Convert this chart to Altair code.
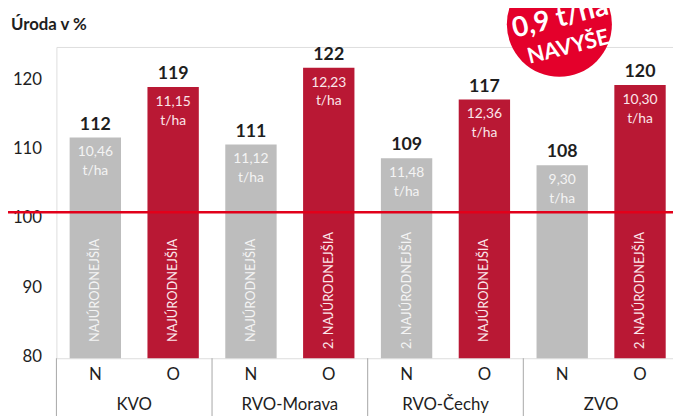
import altair as alt
import pandas as pd

regions = ["KVO", "RVO-Morava", "RVO-Čechy", "ZVO"]
types = ["N", "O"]
percent = [111.9, 119.2, 110.9, 122.0, 108.9, 117.4, 107.9, 119.5]
labels = ["112", "119", "111", "122", "109", "117", "108", "120"]
yields = ["10,46", "11,15", "11,12", "12,23", "11,48", "12,36", "9,30", "10,30"]
ranks = ["NAJÚRODNEJŠIA", "NAJÚRODNEJŠIA", "NAJÚRODNEJŠIA", "2. NAJÚRODNEJŠIA",
         "2. NAJÚRODNEJŠIA", "NAJÚRODNEJŠIA", "", "2. NAJÚRODNEJŠIA"]
reference = 101.1
rank_pos = 89.8
y_ticks = [80, 90, 100, 110, 120]
title_text = "Úroda v %"
badge_lines = ["0,9 t/ha", "NAVYŠE"]

FONT = "Lato"
GRAY = "#bdbdbd"
RED = "#b91834"
LINE_RED = "#e2001a"
BADGE_RED = "#e4002b"
TXT = "#1e1e1e"

rows = []
i = 0
for r in regions:
    for t in types:
        rows.append({"region": r, "type": t, "pct": percent[i], "label": labels[i],
                     "yld": yields[i] + "\nt/ha", "rank": ranks[i], "rpos": rank_pos})
        i += 1
df = pd.DataFrame(rows)

W, H = 624, 315
xscale = alt.Scale(domain=regions, range=[0, 630], paddingInner=0, paddingOuter=0)
xoff = alt.XOffset("type:N", scale=alt.Scale(domain=types, paddingInner=0.34, paddingOuter=0.17))
yscale = alt.Scale(domain=[80, 125], nice=False, zero=False)

X = alt.X("region:N", scale=xscale,
          axis=alt.Axis(title=None, labels=False, ticks=False, domain=True,
                        domainColor="#a6a6a6", domainWidth=1, grid=False))
Y = alt.Y("pct:Q", scale=yscale,
          axis=alt.Axis(title=None, values=y_ticks, domain=False, ticks=False, grid=False,
                        labelFont=FONT, labelFontSize=17, labelColor=TXT,
                        labelPadding=15, labelOffset=-2))

base = alt.Chart(df)

bars = base.mark_bar().encode(
    x=X, xOffset=xoff, y=Y, y2=alt.datum(80),
    color=alt.condition(alt.datum.type == "N", alt.value(GRAY), alt.value(RED)),
)

refline = alt.Chart(pd.DataFrame({"ref": [reference]})).mark_rule(
    color=LINE_RED, strokeWidth=2.5
).encode(y=alt.Y("ref:Q", scale=yscale), x=alt.value(-57), x2=alt.value(W))

top_labels = base.mark_text(font=FONT, fontSize=18, fontWeight="bold", color=TXT,
                            baseline="alphabetic", dy=-8).encode(
    x=X, xOffset=xoff, y=Y, text="label:N")

inner = base.mark_text(font=FONT, fontSize=14, baseline="top", dy=8,
                       lineBreak="\n", lineHeight=19).encode(
    x=X, xOffset=xoff, y=Y, text="yld:N",
    color=alt.condition(alt.datum.type == "N", alt.value("#f4f4f4"), alt.value("#fbe6ea")))

rank_txt = base.mark_text(font=FONT, fontSize=13, angle=270, align="center",
                          baseline="middle").encode(
    x=X, xOffset=xoff, y=alt.Y("rpos:Q", scale=yscale), text="rank:N",
    color=alt.condition(alt.datum.type == "N", alt.value("#f4f4f4"), alt.value("#fbe6ea")))

type_lbl = base.mark_text(font=FONT, fontSize=17, color=TXT, baseline="middle").encode(
    x=X, xOffset=xoff, y=alt.value(H + 17), text="type:N")

reg_df = pd.DataFrame({"region": regions})
reg_lbl = alt.Chart(reg_df).mark_text(font=FONT, fontSize=17, color=TXT,
                                      baseline="middle").encode(
    x=X, y=alt.value(H + 47), text="region:N")

seps = alt.Chart(reg_df).mark_rule(color="#a6a6a6", strokeWidth=1).encode(
    x=alt.X("region:N", scale=xscale, bandPosition=0, axis=None),
    y=alt.value(H), y2=alt.value(H + 60))

title = alt.Chart(pd.DataFrame({"t": [title_text]})).mark_text(
    font=FONT, fontSize=17, fontWeight="bold", color=TXT, align="left", baseline="middle"
).encode(x=alt.value(-46), y=alt.value(-22), text="t:N")

badge = alt.Chart(pd.DataFrame({"b": [1]})).mark_point(
    shape="circle", filled=True, size=11310, color=BADGE_RED, opacity=1, strokeWidth=0
).encode(x=alt.value(509), y=alt.value(-23))

badge1 = alt.Chart(pd.DataFrame({"t": [badge_lines[0]]})).mark_text(
    font=FONT, fontSize=28, fontWeight="bold", color="white", angle=346,
    align="center", baseline="middle"
).encode(x=alt.value(510), y=alt.value(-29), text="t:N")

badge2 = alt.Chart(pd.DataFrame({"t": [badge_lines[1]]})).mark_text(
    font=FONT, fontSize=22, fontWeight="bold", color="white", angle=346,
    align="center", baseline="middle"
).encode(x=alt.value(518), y=alt.value(0), text="t:N")

chart = alt.layer(
    bars, refline, top_labels, inner, rank_txt, type_lbl, reg_lbl, seps,
    title, badge, badge1, badge2
).properties(
    width=W, height=H,
    autosize=alt.AutoSizeParams(type="none"),
    padding={"left": 49, "top": 37, "right": 0, "bottom": 56},
).configure_view(stroke=None).configure(background="white")

chart.save("out.html", embed_options={"renderer": "svg", "actions": False})
